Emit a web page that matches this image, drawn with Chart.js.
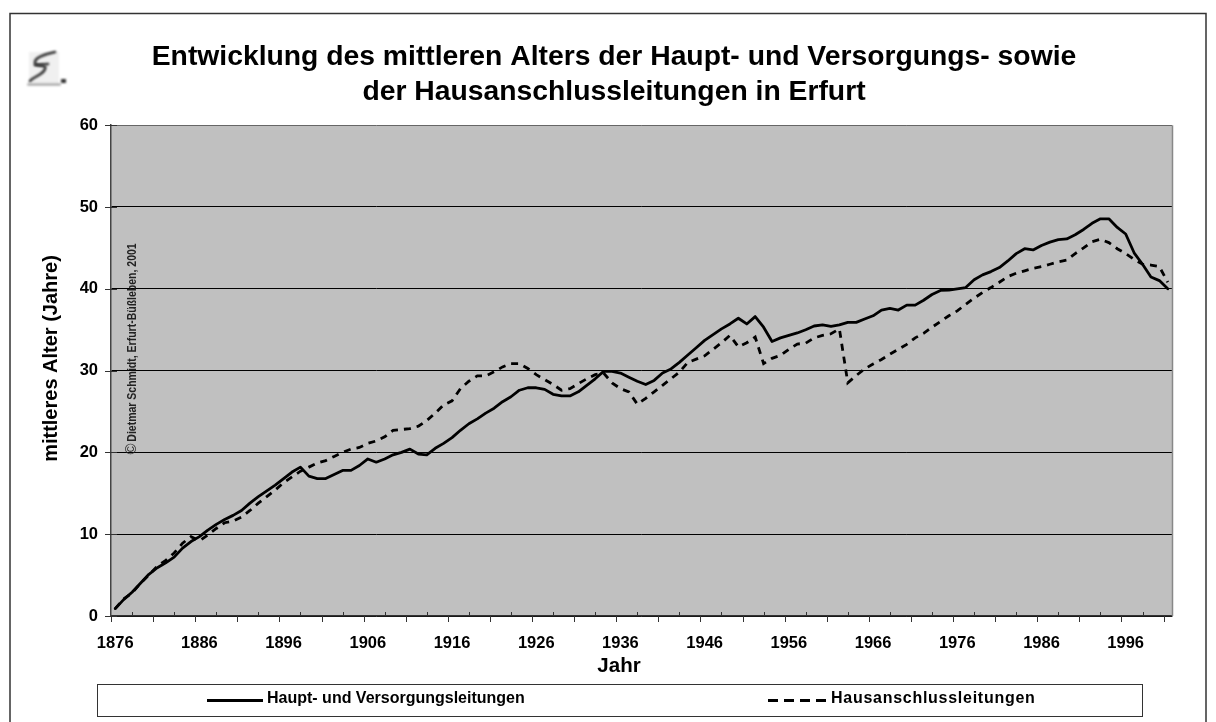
<!DOCTYPE html>
<html><head><meta charset="utf-8">
<style>html,body{margin:0;padding:0;background:#fff;overflow:hidden}canvas{display:block}</style>
<script src="https://cdn.jsdelivr.net/npm/chart.js@4"></script></head>
<body><canvas id="c" width="1216" height="722"></canvas>
<script>
const years = [];
for (let y = 1876; y <= 2001; y++) years.push(String(y));
const hauptLeitungen = [
 0.9,2.0,2.9,4.0,5.1,5.9,6.5,7.2,8.3,9.1,
 9.7,10.5,11.2,11.8,12.3,12.9,13.8,14.6,15.3,16.0,
 16.8,17.6,18.2,17.1,16.8,16.8,17.3,17.8,17.8,18.4,
 19.2,18.8,19.2,19.7,20.0,20.4,19.8,19.7,20.5,21.1,
 21.8,22.7,23.5,24.1,24.8,25.4,26.2,26.8,27.6,27.9,
 27.9,27.7,27.1,26.9,26.9,27.4,28.2,29.0,29.9,29.9,
 29.7,29.2,28.7,28.3,28.8,29.7,30.2,31.0,31.9,32.8,
 33.7,34.4,35.1,35.7,36.4,35.7,36.6,35.3,33.55,34.0,
 34.3,34.6,35.0,35.45,35.6,35.4,35.6,35.9,35.9,36.3,
 36.7,37.4,37.6,37.4,38.0,38.0,38.6,39.3,39.8,39.85,
 40.0,40.15,41.1,41.7,42.1,42.6,43.4,44.3,44.9,44.75,
 45.3,45.7,46.0,46.1,46.6,47.25,48.0,48.55,48.55,47.5,
 46.7,44.4,43.0,41.45,41.0,40.0];
const hausanschluss = [
 0.9,2.1,2.8,4.0,5.0,6.1,6.8,7.7,8.9,9.7,
 9.2,9.9,10.7,11.4,11.6,12.1,12.9,13.8,14.6,15.4,
 16.3,17.0,17.7,18.2,18.7,19.0,19.5,20.0,20.4,20.6,
 21.1,21.4,21.9,22.7,22.8,22.9,23.2,23.9,24.8,25.8,
 26.3,27.8,28.7,29.35,29.35,29.85,30.45,30.85,30.85,30.25,
 29.5,28.9,28.3,27.6,27.8,28.4,29.0,29.5,29.7,28.5,
 27.8,27.4,25.9,26.6,27.4,28.2,29.0,29.8,31.0,31.4,
 31.8,32.6,33.4,34.3,32.9,33.4,34.1,30.85,31.5,31.85,
 32.6,33.25,33.35,34.0,34.3,34.5,35.1,28.5,29.4,30.2,
 30.8,31.35,32.0,32.6,33.2,34.0,34.55,35.3,36.0,36.7,
 37.3,38.1,38.85,39.55,40.15,40.8,41.5,41.9,42.2,42.5,
 42.7,43.0,43.3,43.5,44.3,45.0,45.75,46.05,45.65,44.9,
 44.3,43.6,43.0,42.9,42.7,40.8];
const titleLines = ['Entwicklung des mittleren Alters der Haupt- und Versorgungs- sowie','der Hausanschlussleitungen in Erfurt'];
const xTitle = 'Jahr', yTitle = 'mittleres Alter (Jahre)';
const creditMark = '©', creditText = 'Dietmar Schmidt, Erfurt-Büßleben, 2001';
const SANS = '"Liberation Sans", Arial, sans-serif';

const decor = {
  id:'decor',
  afterLayout(ch){ const t = ch.titleBlock; t.left = 12; t.right = 1216; },
  beforeDraw(ch){
    const c = ch.ctx, a = ch.chartArea; c.save();
    c.fillStyle='#fff'; c.fillRect(0,0,1216,722);
    c.fillStyle='#c0c0c0'; c.fillRect(a.left,a.top,a.right-a.left,a.bottom-a.top);
    c.strokeStyle='#333'; c.lineWidth=1.5;
    c.beginPath(); c.moveTo(10,722); c.lineTo(10,13.5); c.lineTo(1206,13.5); c.lineTo(1206,722); c.stroke();
    // signature logo
    c.filter='blur(0.9px)';
    c.fillStyle='#f0f0f0'; c.fillRect(29,52,30,32);
    c.strokeStyle='#333'; c.lineWidth=2.6; c.lineCap='round';
    c.beginPath(); c.moveTo(55,52); c.bezierCurveTo(45,54,34,58,35,63); c.bezierCurveTo(36,68,47,63,45,69); c.bezierCurveTo(43,75,34,76,30,81); c.stroke();
    c.beginPath(); c.moveTo(35,65); c.lineTo(48,64); c.stroke();
    c.strokeStyle='#999'; c.lineWidth=2; c.beginPath(); c.moveTo(28,84.5); c.lineTo(60,84.5); c.stroke();
    c.fillStyle='#333'; c.fillRect(61,79,5,4);
    c.restore();
  },
  afterDatasetsDraw(ch){
    const c = ch.ctx, a = ch.chartArea, y = ch.scales.y;
    c.save();
    c.strokeStyle='#888'; c.lineWidth=1.5; c.beginPath(); c.moveTo(a.right+.5,a.top); c.lineTo(a.right+.5,a.bottom); c.stroke();
    c.strokeStyle='#333'; c.lineWidth=1; c.beginPath();
    const w = (a.right-a.left)/years.length;
    for(let i=0;i<=25;i++){ const px=Math.round(a.left+i*5*w)+.5; c.moveTo(px,a.bottom); c.lineTo(px,a.bottom+6);
      if(i<25){const m=Math.round(a.left+(i*5+2.5)*w)+.5; c.moveTo(m,a.bottom-4); c.lineTo(m,a.bottom);} }
    for(let v=0;v<=60;v+=10){ const py=Math.round(y.getPixelForValue(v))+.5; c.moveTo(a.left-6,py); c.lineTo(a.left+6,py); }
    c.stroke();
    c.fillStyle='#000'; c.textAlign='center'; c.textBaseline='middle';
    c.font='bold 20.5px '+SANS; c.fillText(xTitle,619,666);
    c.save(); c.font='bold 20px '+SANS; c.translate(51,358.5); c.rotate(-Math.PI/2); c.fillText(yTitle,0,0); c.restore();
    c.save(); c.translate(133,342.5); c.rotate(-Math.PI/2); c.scale(0.875,1); c.font='bold 12px '+SANS; c.fillStyle='#222';
    c.fillText(creditText,0,0); c.restore();
    c.save(); c.translate(132,449); c.rotate(-Math.PI/2); c.font='15px '+SANS; c.fillStyle='#222'; c.fillText(creditMark,0,0); c.restore();
    // legend
    c.fillStyle='#fff'; c.fillRect(97,684,1045,33);
    c.strokeStyle='#333'; c.lineWidth=1; c.strokeRect(97.5,684.5,1045,32);
    const ds = ch.data.datasets;
    c.lineWidth=2.8; c.strokeStyle='#000';
    c.beginPath(); c.moveTo(207,700.5); c.lineTo(263,700.5); c.stroke();
    c.setLineDash([10,6]); c.beginPath(); c.moveTo(768,700.5); c.lineTo(826,700.5); c.stroke(); c.setLineDash([]);
    c.fillStyle='#000'; c.textAlign='left'; c.font='bold 16px '+SANS;
    c.fillText(ds[0].label,267,699);
    c.letterSpacing='0.73px'; c.fillText(ds[1].label,831,699); c.letterSpacing='0px';
    c.restore();
  }
};
new Chart(document.getElementById('c'),{
  type:'line',
  data:{labels:years,datasets:[
    {label:'Haupt- und Versorgungsleitungen',data:hauptLeitungen,borderColor:'#000',borderWidth:2.8,pointRadius:0,tension:0,borderJoinStyle:'round',borderCapStyle:'round'},
    {label:'Hausanschlussleitungen',data:hausanschluss,borderColor:'#000',borderWidth:2.8,borderDash:[7,6],pointRadius:0,tension:0}
  ]},
  options:{
    responsive:false,animation:false,devicePixelRatio:1,
    layout:{padding:{left:60,right:44,top:0,bottom:0}},
    plugins:{
      legend:{display:false},tooltip:{enabled:false},
      title:{display:true,text:titleLines,color:'#000',font:{family:SANS,size:28.3,weight:'bold',lineHeight:1.24},padding:{top:40,bottom:15}}
    },
    scales:{
      x:{type:'category',offset:true,
        afterFit(s){s.height=106;},
        grid:{display:false},
        border:{display:true,color:'#333',width:1.5},
        ticks:{autoSkip:false,maxRotation:0,minRotation:0,padding:10,color:'#000',font:{family:SANS,size:16.5,weight:'bold'},
          callback(v,i){return i%10===0?years[i]:'';}}},
      y:{min:0,max:60,
        afterFit(s){s.width=51;},
        grid:{color(c){return c.tick.value===60?'#666':'#000';},lineWidth:1,drawTicks:false},
        border:{display:true,color:'#444',width:1.5},
        ticks:{stepSize:10,padding:13,color:'#000',font:{family:SANS,size:16.5,weight:'bold'}}}
    }
  },
  plugins:[decor]
});
</script></body></html>
